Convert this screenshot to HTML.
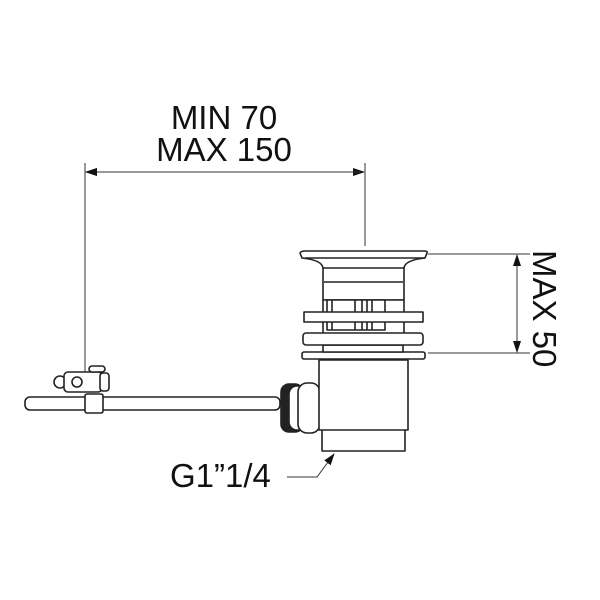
<!DOCTYPE html>
<html><head><style>
html,body{margin:0;padding:0;background:#fff;}
svg{display:block;}
text{font-family:"Liberation Sans",Arial,sans-serif;fill:#111;}
</style></head><body>
<svg width="600" height="600" viewBox="0 0 600 600" xmlns="http://www.w3.org/2000/svg">
<defs>
<marker id="a" markerWidth="12" markerHeight="8" refX="11" refY="4" orient="auto" markerUnits="userSpaceOnUse">
<path d="M0,0 L12,4 L0,8 Z" fill="#111"/></marker>
</defs>
<g stroke="#333" stroke-width="1" fill="none">
<!-- top dimension -->
<line x1="85" y1="163" x2="85" y2="372"/>
<line x1="365" y1="163" x2="365" y2="246"/>
<line x1="90" y1="172" x2="86" y2="172" marker-end="url(#a)"/>
<line x1="86" y1="172" x2="364" y2="172" marker-end="url(#a)"/>
<line x1="360" y1="172" x2="86" y2="172" marker-end="url(#a)"/>
<!-- right dimension -->
<line x1="428" y1="254" x2="530" y2="254"/>
<line x1="428" y1="353" x2="530" y2="353"/>
<line x1="517" y1="300" x2="517" y2="255" marker-end="url(#a)"/>
<line x1="517" y1="300" x2="517" y2="352" marker-end="url(#a)"/>
<!-- leader -->
<polyline points="287,477 317,477 334,454" marker-end="url(#a)"/>
</g>
<g stroke="#222" stroke-width="1.6" fill="#fff" stroke-linejoin="round">
<!-- rod -->
<rect x="25" y="397" width="255" height="13" rx="5"/>
<!-- clamp screw block -->
<circle cx="60" cy="382" r="6"/>
<rect x="64" y="372" width="38" height="20" rx="4"/>
<circle cx="77" cy="382" r="5"/>
<rect x="100" y="373" width="9" height="18" rx="3"/>
<rect x="89" y="366" width="16" height="6" rx="3"/>
<rect x="85" y="394" width="18" height="19" rx="2"/>
<!-- side nut -->
<rect x="281" y="384" width="22" height="48" rx="8" fill="#222"/>
<rect x="289" y="386" width="18" height="44" rx="8"/>
<rect x="298" y="383" width="22" height="50" rx="9"/>
<!-- lower body -->
<rect x="322" y="428" width="83" height="23"/>
<rect x="319" y="360" width="89" height="70"/>
<!-- flange 3 -->
<rect x="302" y="352" width="123" height="7" rx="2"/>
<rect x="323" y="345" width="80" height="7"/>
<!-- upper body -->
<path d="M323,300 L323,268 Q322,260 302,258 L300,253 Q301,251 305,251 L424,251 Q428,251 427,253 L425,258 Q405,260 404,268 L404,300 Z"/>
<line x1="305" y1="258" x2="425" y2="258"/>
<line x1="323" y1="268" x2="404" y2="268"/>
<line x1="324" y1="282" x2="403" y2="282"/>
<rect x="323" y="300" width="81" height="45"/>
<!-- slider -->
<rect x="327" y="300" width="58" height="30"/>
<line x1="332" y1="300" x2="332" y2="330"/>
<line x1="355" y1="300" x2="355" y2="330"/>
<line x1="362" y1="300" x2="362" y2="330"/>
<line x1="367" y1="300" x2="367" y2="330"/>
<line x1="372" y1="300" x2="372" y2="330"/>
<!-- nuts -->
<rect x="304" y="312" width="119" height="10"/>
<rect x="303" y="333" width="120" height="12" rx="3"/>
</g>
<text x="224" y="129" font-size="33" text-anchor="middle">MIN 70</text>
<text x="224" y="161" font-size="33" text-anchor="middle">MAX 150</text>
<text x="170" y="487" font-size="33">G1”1/4</text>
<text transform="translate(533,250) rotate(90)" font-size="33" x="0" y="0">MAX 50</text>
</svg>
</body></html>
